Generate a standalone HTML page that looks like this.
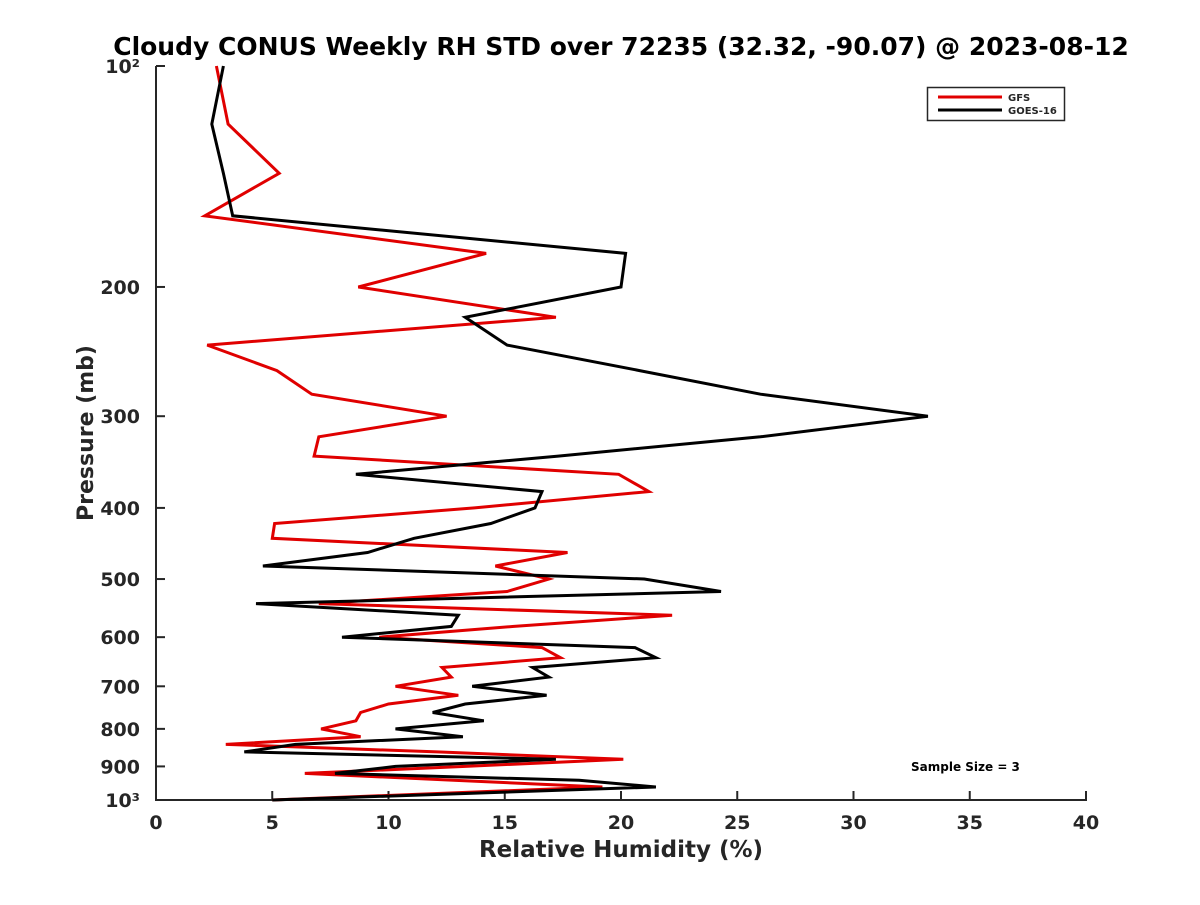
<!DOCTYPE html>
<html><head><meta charset="utf-8"><style>
body{margin:0;background:#fff;}
svg text{font-family:"DejaVu Sans","Liberation Sans",sans-serif;font-weight:bold;fill:#262626;}
</style></head><body>
<svg id="chart" width="1200" height="900" xmlns="http://www.w3.org/2000/svg">
<rect width="1200" height="900" fill="#fff"/>
<text x="621" y="55" font-size="25" text-anchor="middle" fill="#000" style="fill:#000">Cloudy CONUS Weekly RH STD over 72235 (32.32, -90.07) @ 2023-08-12</text>
<g id="axes"></g>
<g id="series"></g>
<text x="621" y="857" font-size="23" text-anchor="middle">Relative Humidity (%)</text>
<text transform="translate(93,433) rotate(-90)" font-size="22" text-anchor="middle">Pressure (mb)</text>
<g>
<rect x="927.5" y="87.5" width="137" height="33" fill="#fff" stroke="#262626" stroke-width="1.5"/>
<line x1="938" y1="97" x2="1002" y2="97" stroke="#e00000" stroke-width="3"/>
<text x="1008" y="101" font-size="10">GFS</text>
<line x1="938" y1="110" x2="1002" y2="110" stroke="#000" stroke-width="3"/>
<text x="1008" y="114" font-size="10">GOES-16</text>
</g>
<text x="911" y="771" font-size="12" fill="#000" style="fill:#000">Sample Size = 3</text>
</svg>
<script>
const levels=[100,120,140,160,180,200,220,240,260,280,300,320,340,360,380,400,420,440,460,480,500,520,540,560,580,600,620,640,660,680,700,720,740,760,780,800,820,840,860,880,900,920,940,960,1000];
const gfsValues=[2.6,3.1,5.3,2.1,14.2,8.7,17.2,2.2,5.2,6.7,12.5,7.0,6.8,19.9,21.2,13.7,5.1,5.0,17.7,14.6,16.9,15.1,7.0,22.2,15.4,9.6,16.6,17.4,12.3,12.7,10.3,13.0,10.0,8.8,8.6,7.1,8.8,3.0,12.1,20.1,13.3,6.4,12.8,19.2,5.0];
const goesValues=[2.9,2.4,2.9,3.3,20.2,20.0,13.3,15.1,20.8,26.0,33.2,26.0,17.3,8.6,16.6,16.3,14.4,11.1,9.1,4.6,21.0,24.3,4.3,13.0,12.7,8.0,20.6,21.5,16.2,16.9,13.6,16.8,13.3,11.9,14.1,10.3,13.2,6.0,3.8,17.2,10.3,7.7,18.2,21.5,5.0];
const xTicks=[0,5,10,15,20,25,30,35,40];
const yTicks=[100,200,300,400,500,600,700,800,900,1000];
const yTickLabels=["10²","200","300","400","500","600","700","800","900","10³"];
const NS="http://www.w3.org/2000/svg";
const L=156,R=1086,T=66,B=800;
function xs(v){return L+(v-0)/(40-0)*(R-L);}
function ys(p){return T+(Math.log10(p)-2)*(B-T);}
const axes=document.getElementById('axes');
function mk(tag,attrs,parent){const e=document.createElementNS(NS,tag);for(const k in attrs)e.setAttribute(k,attrs[k]);parent.appendChild(e);return e;}
let e=mk('line',{x1:L,y1:T,x2:L,y2:B+1,stroke:'#262626','stroke-width':2},axes);


e=mk('line',{x1:L-1,y1:B,x2:R+1,y2:B,stroke:'#262626','stroke-width':2},axes);


xTicks.forEach(v=>{
  const t=mk('line',{x1:xs(v),y1:B,x2:xs(v),y2:B-9,stroke:'#262626','stroke-width':2},axes);
  
  
  const tx=mk('text',{x:xs(v),y:B+29,'font-size':19,'text-anchor':'middle'},axes);
  tx.textContent=v;
  
  
});
yTicks.forEach((p,i)=>{
  const t=mk('line',{x1:L,y1:ys(p),x2:L+9,y2:ys(p),stroke:'#262626','stroke-width':2},axes);
  
  
  const tx=mk('text',{x:L-16,y:ys(p)+7,'font-size':19,'text-anchor':'end'},axes);
  tx.textContent=yTickLabels[i];
  
  
});
const series=document.getElementById('series');
function pts(vals){return vals.map((v,i)=>xs(v).toFixed(1)+','+ys(levels[i]).toFixed(1)).join(' ');}
let g=mk('polyline',{points:pts(gfsValues),fill:'none',stroke:'#e00000','stroke-width':3,'stroke-linejoin':'miter'},series);


let k=mk('polyline',{points:pts(goesValues),fill:'none',stroke:'#000','stroke-width':3,'stroke-linejoin':'miter'},series);


</script>
</body></html>
